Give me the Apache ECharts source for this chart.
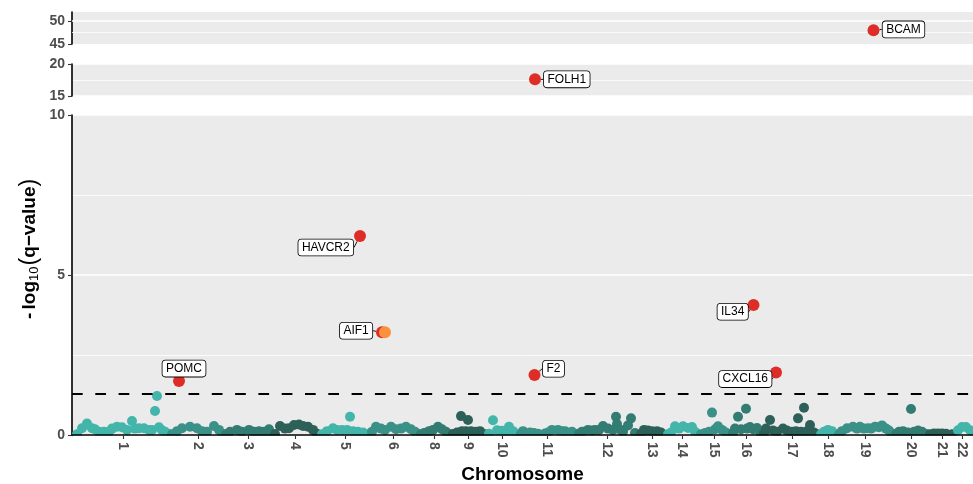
<!DOCTYPE html>
<html>
<head>
<meta charset="utf-8">
<script src="https://cdn.jsdelivr.net/npm/echarts@6/dist/echarts.min.js"></script>
<style>
  html, body { margin: 0; padding: 0; background: #fff; }
  #chart { width: 973px; height: 484px; }
</style>
</head>
<body>
<div id="chart"></div>
<script>
// Chromosome tick labels and their centres on the cumulative gene-position axis
const chromosomes = ['1','2','3','4','5','6','8','9','10','11','12','13','14','15','16','17','18','19','20','21','22'];
const chromCenters = [51,126,176,223,273,321,362,396,430,475,535,580,610,642,674,720,756,793,839,870,890];
const positionMax = 901;

// Non-significant genes: [chromosome index, position, -log10(q)]
const genePoints = [
  [0,5,0.02],[0,10,0.21],[0,15,0.36],[0,20,0.21],[0,23,0.18],[0,27,0.10],[0,32,0.10],[0,37,0.10],[0,40,0.20],[0,45,0.26],
  [0,50,0.24],[0,55,0.16],[0,60,0.44],[0,63,0.20],[0,67,0.21],[0,72,0.21],[0,77,0.16],[0,80,0.16],[0,83,0.75],[0,85,1.22],
  [0,87,0.24],[0,90,0.15],[0,93,0.10],[0,97,0.03],
  [1,100,0.02],[1,105,0.12],[1,110,0.21],[1,118,0.26],[1,125,0.21],[1,130,0.12],[1,135,0.10],[1,142,0.28],[1,147,0.16],[1,151,0.03],
  [2,154,0.02],[2,158,0.10],[2,165,0.16],[2,170,0.10],[2,177,0.16],[2,182,0.10],[2,187,0.12],[2,192,0.10],[2,197,0.18],[2,200,0.03],
  [3,203,0.03],[3,208,0.28],[3,213,0.20],[3,217,0.21],[3,222,0.31],[3,227,0.33],[3,231,0.28],[3,236,0.26],[3,241,0.16],[3,245,0.04],
  [4,250,0.02],[4,255,0.12],[4,261,0.21],[4,265,0.16],[4,270,0.16],[4,275,0.16],[4,278,0.57],[4,281,0.12],[4,286,0.10],[4,291,0.08],[4,296,0.02],
  [5,300,0.10],[5,304,0.26],[5,309,0.20],[5,313,0.16],[5,319,0.26],[5,324,0.18],[5,329,0.20],[5,334,0.26],[5,339,0.18],[5,343,0.10],[5,346,0.02],
  [6,349,0.02],[6,352,0.06],[6,357,0.12],[6,361,0.16],[6,366,0.26],[6,370,0.18],[6,374,0.10],[6,377,0.02],
  [7,381,0.03],[7,385,0.08],[7,389,0.59],[7,390,0.12],[7,394,0.12],[7,396,0.47],[7,399,0.12],[7,404,0.10],[7,408,0.12],[7,412,0.03],
  [8,417,0.04],[8,421,0.46],[8,425,0.15],[8,430,0.13],[8,434,0.10],[8,437,0.26],[8,441,0.12],[8,445,0.03],
  [9,449,0.03],[9,451,0.12],[9,458,0.08],[9,462,0.06],[9,466,0.04],[9,473,0.05],[9,476,0.08],[9,480,0.16],[9,486,0.16],[9,490,0.12],[9,493,0.12],[9,500,0.10],[9,504,0.02],
  [10,507,0.04],[10,510,0.10],[10,516,0.16],[10,520,0.14],[10,523,0.16],[10,527,0.16],[10,531,0.28],[10,536,0.20],[10,541,0.16],[10,544,0.57],
  [10,545,0.34],[10,549,0.16],[10,551,0.10],[10,556,0.30],[10,559,0.52],[10,563,0.06],
  [11,569,0.04],[11,572,0.16],[11,576,0.14],[11,580,0.12],[11,585,0.12],[11,589,0.08],[11,591,0.02],
  [12,596,0.02],[12,599,0.08],[12,603,0.27],[12,607,0.20],[12,611,0.27],[12,616,0.22],[12,620,0.25],[12,623,0.10],[12,625,0.02],
  [13,629,0.02],[13,633,0.06],[13,637,0.10],[13,640,0.70],[13,643,0.18],[13,646,0.27],[13,650,0.16],[13,654,0.08],[13,657,0.02],
  [14,661,0.06],[14,663,0.20],[14,666,0.57],[14,669,0.18],[14,674,0.82],[14,675,0.20],[14,678,0.25],[14,681,0.18],[14,685,0.22],[14,688,0.10],[14,690,0.02],
  [15,692,0.05],[15,694,0.20],[15,698,0.47],[15,701,0.14],[15,705,0.10],[15,711,0.20],[15,715,0.14],[15,720,0.10],[15,724,0.12],[15,726,0.52],
  [15,729,0.10],[15,732,0.85],[15,735,0.12],[15,738,0.31],[15,742,0.08],[15,745,0.02],
  [16,749,0.02],[16,752,0.10],[16,756,0.16],[16,760,0.12],[16,764,0.02],
  [17,767,0.02],[17,770,0.12],[17,775,0.21],[17,781,0.26],[17,785,0.20],[17,788,0.26],[17,792,0.20],[17,796,0.21],[17,799,0.20],[17,803,0.26],
  [17,807,0.24],[17,810,0.30],[17,814,0.20],[17,817,0.14],[17,820,0.03],
  [18,824,0.03],[18,827,0.10],[18,831,0.12],[18,836,0.08],[18,839,0.81],[18,842,0.10],[18,846,0.14],[18,850,0.10],[18,854,0.03],
  [19,858,0.02],[19,862,0.05],[19,866,0.05],[19,870,0.05],[19,874,0.04],[19,880,0.02],
  [20,886,0.15],[20,890,0.25],[20,894,0.25],[20,898,0.15],[20,901,0.10]
];

// Significant genes (labelled, red)
const hitGenes     = ['POMC', 'HAVCR2', 'AIF1', 'F2', 'FOLH1', 'IL34', 'CXCL16', 'BCAM'];
const hitPositions = [107, 288, 310, 462.5, 463, 681.5, 704, 801.5];
const hitValues    = [1.69, 6.22, 3.21, 1.875, 17.6, 4.06, 1.95, 48.0];

// Second AIF1 entry (orange)
const altGenes     = ['AIF1'];
const altPositions = [313];
const altValues    = [3.21];

// q = 0.05 significance line
const threshold = -Math.log10(0.05);

// Broken y axis: three stacked panels
const panels = [
  { min: 0,  max: 10, top: 115, height: 320 },
  { min: 15, max: 20, top: 64,  height: 32 },
  { min: 45, max: 52, top: 12,  height: 32 }
];

const teal = ['#43B5AA', '#3A9188', '#327C73', '#2C6059'];
const hitRed = '#DE2D26';
const altOrange = '#FB913C';
const FONT = 'Liberation Sans, Arial, sans-serif';

// label box offsets from each gene's point (px)
const labelOffsets = {
  POMC: [5, -12.3], HAVCR2: [-34.2, 11.5], AIF1: [-25.9, -1.5], F2: [19, -6.2],
  FOLH1: [31.8, 0], IL34: [-20.8, 6.7], CXCL16: [-30.7, 6.5], BCAM: [30, -0.9]
};

function panelOf(v) {
  return panels.findIndex(p => v >= p.min && v <= p.max);
}

const chart = echarts.init(document.getElementById('chart'), null, { renderer: 'canvas' });

const grids = panels.map(p => ({
  left: 72, right: 0, top: p.top, height: p.height,
  show: true, backgroundColor: '#EBEBEB', borderWidth: 0,
  containLabel: false, outerBoundsMode: 'none'
}));

const axisLabelStyle = { fontFamily: FONT, fontSize: 14, fontWeight: 'bold', color: '#4D4D4D' };

const xAxes = panels.map((p, i) => {
  const base = {
    gridIndex: i, type: 'value', min: 0, max: positionMax,
    splitLine: { show: false }
  };
  if (i !== 0) {
    return Object.assign(base, { show: false });
  }
  return Object.assign(base, {
    z: 10,
    axisLine: { show: true, onZero: false, lineStyle: { color: '#000', width: 1.6 } },
    axisTick: { show: true, length: 4, customValues: chromCenters, lineStyle: { color: '#333', width: 1.1 } },
    axisLabel: Object.assign({
      show: true, rotate: -90, margin: 7, customValues: chromCenters,
      formatter: v => {
        const k = chromCenters.indexOf(v);
        return k >= 0 ? chromosomes[k] : '';
      }
    }, axisLabelStyle),
    name: 'Chromosome', nameLocation: 'middle', nameGap: 30, nameMoveOverlap: false,
    nameTextStyle: { fontFamily: FONT, fontSize: 19, fontWeight: 'bold', color: '#000' }
  });
});

const yAxes = panels.map((p, i) => {
  const ax = {
    gridIndex: i, type: 'value', min: p.min, max: p.max, interval: 5,
    axisLine: { show: true, onZero: false, lineStyle: { color: '#000', width: 1.6 } },
    axisTick: { show: true, length: 4, lineStyle: { color: '#333', width: 1.1 } },
    axisLabel: Object.assign({ margin: 7 }, axisLabelStyle),
    splitLine: { show: true, lineStyle: { color: '#FFFFFF', width: 1.5 } },
    minorTick: { show: false, splitNumber: 2 },
    minorSplitLine: { show: true, lineStyle: { color: '#FFFFFF', width: 0.8 } }
  };
  if (i === 2) {
    ax.axisLabel.customValues = [45, 50];
    ax.axisTick.customValues = [45, 50];
    ax.splitLine = { show: false };
    ax.minorSplitLine = { show: false };
  }
  return ax;
});

const labelStyle = {
  show: true, position: 'inside', formatter: '{b}',
  fontFamily: FONT, fontSize: 12, color: '#000',
  backgroundColor: '#FFFFFF', borderColor: '#000', borderWidth: 0.8, borderRadius: 3,
  padding: [2, 3.5, 1, 3.5], lineHeight: 13
};

const series = [];

// background genes, coloured by chromosome
series.push({
  type: 'scatter', xAxisIndex: 0, yAxisIndex: 0,
  symbol: 'circle', symbolSize: 10,
  data: genePoints.map(([c, pos, v]) => [pos, v, c]),
  encode: { x: 0, y: 1 },
  itemStyle: { opacity: 1, color: params => teal[params.data[2] % teal.length] },
  silent: true, z: 2,
  markLine: {
    silent: true, symbol: 'none', label: { show: false },
    lineStyle: { color: '#000', width: 2.2, type: [10.7, 12.6] },
    data: [{ yAxis: threshold }]
  }
});

// gridlines of the top panel
series.push({
  type: 'scatter', xAxisIndex: 2, yAxisIndex: 2, data: [], silent: true, z: 1,
  markLine: {
    silent: true, symbol: 'none', label: { show: false },
    data: [
      { yAxis: 50, lineStyle: { color: '#FFFFFF', width: 1.5, type: 'solid' } },
      { yAxis: 47.5, lineStyle: { color: '#FFFFFF', width: 0.8, type: 'solid' } }
    ]
  }
});

// labelled significant genes, one series per panel
panels.forEach((p, pi) => {
  const items = [];
  hitGenes.forEach((g, k) => {
    if (panelOf(hitValues[k]) === pi) {
      items.push({ name: g, value: [hitPositions[k], hitValues[k]] });
    }
  });
  altGenes.forEach((g, k) => {
    if (panelOf(altValues[k]) === pi) {
      items.push({ name: g, value: [altPositions[k], altValues[k]],
        itemStyle: { color: altOrange }, label: { show: false }, labelLine: { show: false } });
    }
  });
  if (!items.length) return;
  series.push({
    type: 'scatter', xAxisIndex: pi, yAxisIndex: pi,
    symbol: 'circle', symbolSize: 12, clip: false, z: 5,
    data: items,
    itemStyle: { color: hitRed, opacity: 1 },
    label: labelStyle,
    labelLine: { show: true, lineStyle: { color: '#000', width: 0.9 } },
    labelLayout: params => {
      const off = labelOffsets[params.text] || [0, 0];
      return { dx: off[0], dy: off[1] };
    },
    emphasis: { disabled: true }
  });
});

chart.setOption({
  animation: false,
  backgroundColor: '#FFFFFF',
  textStyle: { fontFamily: FONT },
  grid: grids,
  xAxis: xAxes,
  yAxis: yAxes,
  series: series,
  graphic: [
    {
      // mask below the main panel so points at zero are cut at the axis
      type: 'rect', z: 6, silent: true,
      shape: { x: 72.8, y: 435.4, width: 910, height: 10 },
      style: { fill: '#FFFFFF' }
    },
    {
      type: 'text', x: 30, y: 249, rotation: Math.PI / 2, silent: true, z: 6,
      style: {
        text: '{t|-} {t|log}{s|10}{p|(}{t|q−value}{p|)}',
        align: 'center', verticalAlign: 'middle',
        rich: {
          t: { fontFamily: FONT, fontSize: 19, fontWeight: 'bold', fill: '#000' },
          s: { fontFamily: FONT, fontSize: 13, fill: '#000', padding: [9, 1, 0, 0] },
          p: { fontFamily: FONT, fontSize: 23, fill: '#000' }
        }
      }
    }
  ]
});
</script>
</body>
</html>
